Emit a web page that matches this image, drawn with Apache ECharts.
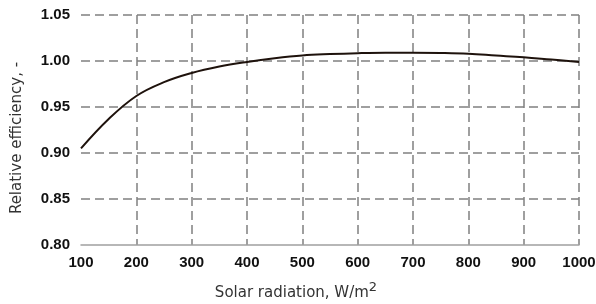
<!DOCTYPE html>
<html>
<head>
<meta charset="utf-8">
<script src="https://cdn.jsdelivr.net/npm/echarts@6/dist/echarts.min.js"></script>
<style>
  html, body { margin: 0; padding: 0; background: #fff; }
  #chart { width: 596px; height: 304px; }
</style>
</head>
<body>
<div id="chart"></div>
<script>
// radiacao solar (W/m2) e eficiencia relativa
const radiation = [100, 150, 200, 250, 300, 350, 400, 450, 500, 550, 600, 650, 700, 750, 800, 850, 900, 950, 1000];
const efficiency = [0.905, 0.937, 0.962, 0.977, 0.987, 0.994, 0.999, 1.003, 1.006, 1.0075, 1.0085, 1.009, 1.009, 1.0088, 1.008, 1.006, 1.004, 1.0015, 0.999];

const chart = echarts.init(document.getElementById('chart'));

const gridLine = { show: true, showMinLine: false, lineStyle: { color: '#808080', width: 1.5, type: [9, 5] } };
const tickLabel = { color: '#111', fontSize: 15, fontWeight: 'bold', fontFamily: 'Liberation Sans, Arial, sans-serif' };
const nameFont = 'DejaVu Sans, Verdana, sans-serif';

const option = {
  animation: false,
  grid: { left: 81, right: 17, top: 15, bottom: 59, outerBoundsMode: 'none' },
  xAxis: {
    type: 'value',
    min: 100,
    max: 1000,
    interval: 100,
    name: '{n|Solar radiation, W/m}{s|2}',
    nameLocation: 'middle',
    nameGap: 38,
    nameTextStyle: {
      padding: [0, 68, 0, 0],
      rich: {
        n: { fontSize: 15, lineHeight: 20, color: '#333', fontFamily: nameFont },
        s: { fontSize: 13, lineHeight: 20, color: '#333', fontFamily: nameFont, padding: [0, 0, 11, 0] }
      }
    },
    axisLine: { show: true, lineStyle: { color: '#a0a0a0', width: 1.5 } },
    axisTick: { show: false },
    axisLabel: Object.assign({ margin: 10, formatter: v => String(v) }, tickLabel),
    splitLine: gridLine
  },
  yAxis: {
    type: 'value',
    min: 0.80,
    max: 1.05,
    interval: 0.05,
    name: 'Relative efficiency, -',
    nameLocation: 'middle',
    nameGap: 56,
    nameTextStyle: { fontSize: 15, color: '#333', fontFamily: nameFont, padding: [0, 16, 0, 0] },
    axisLine: { show: false },
    axisTick: { show: false },
    axisLabel: Object.assign({ margin: 11, formatter: v => v.toFixed(2) }, tickLabel),
    splitLine: gridLine
  },
  series: [{
    type: 'line',
    data: radiation.map((r, i) => [r, efficiency[i]]),
    smooth: 0.4,
    showSymbol: false,
    lineStyle: { color: '#1e120c', width: 2 }
  }]
};

chart.setOption(option);
</script>
</body>
</html>
